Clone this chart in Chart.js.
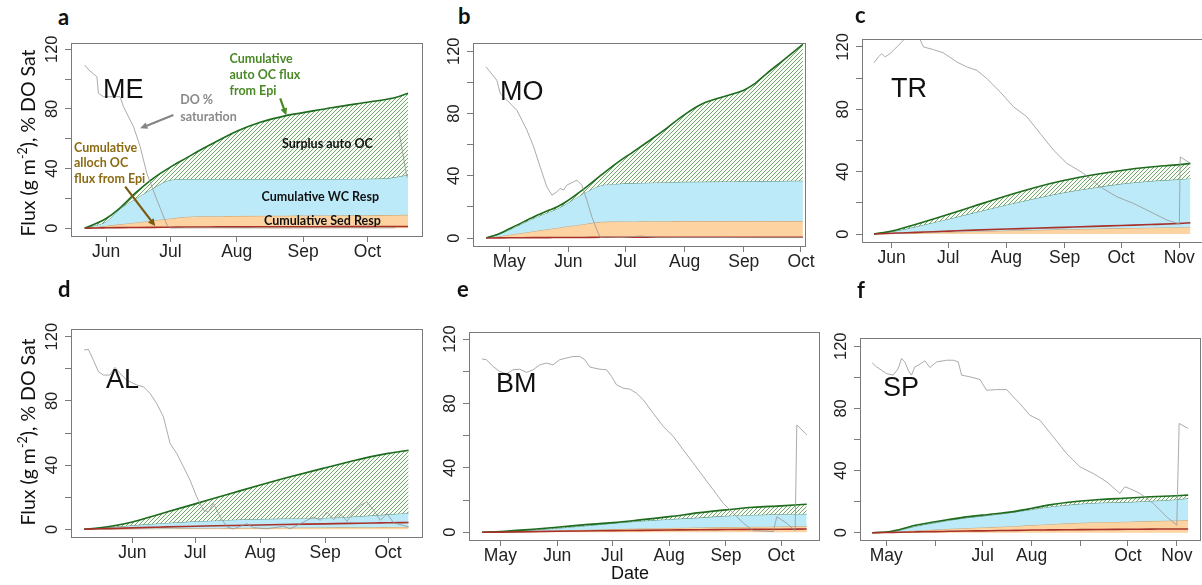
<!DOCTYPE html>
<html>
<head>
<meta charset="utf-8">
<script src="https://cdn.jsdelivr.net/npm/chart.js@4.4.1/dist/chart.umd.min.js"></script>
<style>
  body { margin: 0; background: #fff; width: 1202px; height: 585px; position: relative; overflow: hidden; }
  canvas { position: absolute; }
  .letter { position: absolute; font-family: Lato, 'Open Sans', sans-serif; font-weight: 700; font-size: 22px; line-height: 22px; color: #111; }
  .ytitle { position: absolute; font-family: Lato, 'Open Sans', sans-serif; font-size: 19.5px; color: #111; white-space: nowrap;
            transform: translate(-50%, -50%) rotate(-90deg); }
  .ytitle sup { font-size: 12.5px; }
  .xtitle { position: absolute; font-family: 'Liberation Sans', Arial, sans-serif; font-size: 18px; color: #111; transform: translateX(-50%); }
</style>
</head>
<body>

<script>
// x values are day of year
const yTicks = [0, 20, 40, 60, 80, 100, 120];
const yLabels = [0, 40, 80, 120];

// a - ME
const meTicks = [152, 182, 213, 244, 274];
const meLabels = ['Jun', 'Jul', 'Aug', 'Sep', 'Oct'];
const meDays = [142, 147, 152, 158, 166, 174, 182, 190, 196, 204, 213, 224, 236, 244, 258, 274, 283, 288, 293];
const meAuto = [0, 3, 6.5, 13, 24, 33.5, 41, 47.5, 52.5, 58.5, 65, 71, 75.5, 77.5, 81, 84.5, 86.5, 88, 90.5];
const meResp = [0, 2, 4.4, 12.5, 20, 26.8, 32.4, 33, 33, 33, 33, 33, 33, 33, 33, 33.2, 33.5, 34.5, 35.8];
const meSed = [0, 0.8, 1.6, 2.6, 3.9, 5.2, 6.5, 7.7, 8, 8.1, 8.2, 8.3, 8.4, 8.5, 8.6, 8.7, 8.8, 8.9, 9];
const meAlloch = [0, 0.2, 0.3, 0.4, 0.5, 0.6, 0.7, 0.8, 0.8, 0.9, 0.9, 1, 1, 1, 1.1, 1.1, 1.2, 1.2, 1.2];
const meDoDays = [142, 144, 147.7, 148.4, 150.7, 158.5, 160.1, 164.8, 167.9, 171, 175.7, 180.4, 182, 200, 230, 260, 287, 288, 288.6, 292.5];
const meDo = [109.4, 106, 101.6, 90.5, 88.2, 88.2, 81.5, 68.1, 54.7, 36.9, 19, 2.2, 0.2, 0.3, 0.2, 0.3, 0.3, null, 66, 34];

// b - MO
const moTicks = [121, 152, 182, 213, 244, 274];
const moLabels = ['May', 'Jun', 'Jul', 'Aug', 'Sep', 'Oct'];
const moDays = [109, 116, 125, 134, 142, 146, 151, 160, 169, 177, 186, 195, 204, 212, 221, 230, 239, 244, 249, 256, 265, 270, 275];
const moAuto = [0, 3, 8.3, 13.7, 18, 20, 23.5, 31.5, 40.2, 47.8, 55.4, 63, 71, 78.5, 85.5, 89.6, 92.8, 95, 98.5, 105.7, 114.5, 119.5, 124.5];
const moResp = [0, 2.7, 7.6, 12.8, 16.8, 18.7, 22, 28.7, 33.8, 34.8, 35.3, 35.6, 35.9, 36.1, 36.2, 36.3, 36.4, 36.5, 36.5, 36.6, 36.7, 36.8, 36.8];
const moSed = [0, 1.2, 2.8, 4.4, 5.8, 6.5, 7.4, 8.9, 10.4, 10.6, 10.7, 10.8, 10.8, 10.9, 10.9, 10.9, 10.9, 10.9, 10.9, 10.9, 10.9, 10.9, 10.9];
const moAlloch = [0, 0.1, 0.2, 0.3, 0.3, 0.4, 0.4, 0.4, 0.5, 0.5, 0.5, 0.5, 0.5, 0.5, 0.5, 0.5, 0.5, 0.5, 0.5, 0.5, 0.5, 0.5, 0.5];
const moDoDays = [108.8, 111, 114.5, 116.3, 119.8, 125, 130.3, 133.8, 137.2, 140.7, 143.4, 146, 147.7, 149.5, 151.2, 154.7, 156.5, 159.1, 161.7, 164.3, 167, 168.7, 172.2, 180, 189.7, 200, 220, 250, 274.7];
const moDo = [110, 106.7, 101.4, 92.8, 88.6, 82.1, 69.3, 58.6, 45.8, 32.9, 27.6, 29.7, 31.9, 30.8, 34, 36.1, 37.2, 34, 24.4, 13.7, 5.1, 0.4, 0.6, 0.3, 1.3, 0.3, 0.4, 0.3, 0.3];

// c - TR
const trTicks = [152, 182, 213, 244, 274, 305];
const trLabels = ['Jun', 'Jul', 'Aug', 'Sep', 'Oct', 'Nov'];
const trDays = [142.6, 152, 156.4, 165, 174.2, 182.7, 195.5, 213.2, 227.4, 243.4, 259.4, 274.1, 289.6, 305, 310.9];
const trAuto = [0, 2, 3.3, 6.3, 9.6, 12.8, 17.8, 24.6, 29.6, 34.3, 38, 40.8, 43, 44.5, 45.3];
const trResp = [0, 1.6, 2.5, 4.8, 7.4, 9.8, 13.6, 18.8, 22.6, 26.6, 29.7, 32.2, 34, 35.1, 35.7];
const trSed = [0, 0.3, 0.4, 0.7, 1, 1.3, 1.7, 2.2, 2.6, 3, 3.4, 3.8, 4.1, 4.4, 4.6];
const trAlloch = [0, 0.5, 0.7, 1.1, 1.5, 1.9, 2.5, 3.2, 3.7, 4.3, 4.9, 5.5, 6.1, 6.8, 7.2];
const trDoDays = [142.6, 144.9, 146.7, 148.5, 151.1, 156.4, 159.1, 163.5, 167.1, 168.9, 174.2, 179.5, 186.6, 191.9, 197.3, 202.6, 209.7, 216.8, 223.9, 231, 238.1, 245.2, 254.1, 262.9, 271.8, 280.7, 289.6, 298.4, 305, 305.5, 310.9];
const trDo = [109.8, 113.6, 115.7, 113.6, 115.7, 122, 125.5, 129, 124.7, 120, 118.3, 116.2, 110.4, 107.2, 105, 99.7, 91.2, 81.6, 75.2, 64.5, 53.8, 45.3, 38.9, 30.3, 23.9, 19.6, 14.3, 9, 6.4, 49.5, 45.3];

// d - AL
const alTicks = [152, 182, 213, 244, 274];
const alLabels = ['Jun', 'Jul', 'Aug', 'Sep', 'Oct'];
const alDays = [128.9, 136.6, 144.5, 152, 160.4, 168.4, 182.4, 192.3, 200.2, 213, 224.1, 243.7, 256, 267.1, 274, 283.8];
const alAuto = [0, 1, 2.5, 4.6, 7.7, 10.8, 16, 19.8, 22.8, 27.6, 31.6, 38.2, 42.2, 45.6, 47.3, 49.3];
const alResp = [0, 0.8, 1.7, 2.5, 3.3, 4, 5, 5.5, 6, 6.4, 6.7, 7.1, 7.8, 8.7, 9.3, 10.2];
const alSed = [0, 0.1, 0.2, 0.3, 0.4, 0.5, 0.6, 0.7, 0.8, 0.9, 1, 1.1, 1.2, 1.3, 1.4, 1.5];
const alAlloch = [0, 0.3, 0.6, 0.9, 1.2, 1.5, 1.9, 2.2, 2.4, 2.7, 3, 3.4, 3.7, 3.9, 4.1, 4.2];
const alDoDays = [128.9, 131, 133.4, 135.8, 138.1, 141.3, 143.7, 146.1, 149.3, 154.1, 157.3, 160.4, 163.6, 166.8, 168.4, 170, 173.2, 176.4, 179.5, 182.7, 185.9, 188.3, 190.7, 193.9, 197.1, 200.2, 206.6, 209.8, 216.2, 224.1, 227.3, 235.3, 238.5, 241.7, 244.8, 248, 251.2, 254.4, 257.6, 260.8, 263.9, 267.1, 270.3, 273.5, 276.7, 283.8];
const alDo = [111.7, 112.1, 105.4, 98.2, 96.1, 96.1, 100.9, 97.1, 93, 89.9, 88.8, 84.7, 78.4, 70.1, 61.8, 53.5, 47.2, 38.9, 30.6, 20.2, 11.9, 10.8, 16, 7.7, 1.5, 0.2, 3.5, 1, 0.3, 1.9, 0.3, 5.6, 7.7, 5.6, 10.8, 6, 9.8, 5, 11, 15, 17.1, 11.9, 5.6, 9.8, 4, 1.5];

// e - BM
const bmTicks = [121, 152, 182, 213, 244, 274];
const bmLabels = ['May', 'Jun', 'Jul', 'Aug', 'Sep', 'Oct'];
const bmDays = [111, 121, 138.8, 151.9, 166.1, 182.5, 197.1, 213.1, 229.8, 243.8, 258.9, 274, 288];
const bmAuto = [0, 0.4, 1.9, 3.1, 4.6, 6, 7.7, 9.7, 12.2, 13.9, 15.5, 16.4, 17.4];
const bmResp = [0, 0.2, 1.5, 2.5, 3.9, 5.6, 7, 8.1, 9.1, 10.2, 10.8, 11.2, 11.4];
const bmSed = [0, 0.3, 0.8, 1.1, 1.5, 2, 2.4, 2.7, 3, 3.2, 3.4, 3.6, 3.7];
const bmAlloch = [0, 0.1, 0.4, 0.6, 0.8, 1, 1.2, 1.4, 1.6, 1.7, 1.8, 1.9, 2];
const bmDoDays = [111, 113.4, 117, 120.6, 124.3, 127.9, 131.6, 135.2, 138.8, 142.5, 146.1, 149.7, 153.4, 157, 160.7, 164.3, 167, 169.8, 175.2, 178.9, 181.6, 184.3, 188, 191.6, 195.2, 198.9, 204.3, 209.8, 215.3, 220.7, 226.2, 231.6, 237.1, 242.5, 248, 253.5, 258.9, 266.2, 269.8, 271.7, 277.1, 281.7, 282.6, 288];
const bmDo = [107.6, 107.2, 103, 99.9, 98.4, 100.9, 101.3, 99.3, 100.9, 104, 105.1, 104, 107.2, 108.2, 109.2, 109.2, 107.2, 102.6, 101.3, 100.9, 96.8, 91.6, 89.5, 88.9, 86.4, 82.3, 74, 65.7, 59.5, 51.2, 42.9, 34.6, 26.3, 18, 11.8, 5.6, 1, 0.6, 0.4, 9.7, 5.6, 1, 66.7, 60.5];

// f - SP
const spTicks = [121, 152, 182, 213, 244, 274, 305];
const spLabels = ['May', '', 'Jul', 'Aug', '', 'Oct', 'Nov'];
const spDays = [112.1, 121, 129.6, 140.2, 151.8, 161.3, 171.8, 181.8, 192.9, 203.5, 213.4, 224.6, 235.1, 244.2, 256.2, 274.2, 287.9, 305, 312.1];
const spAuto = [0, 0.4, 2.1, 4.9, 7.1, 8.6, 10.2, 11.3, 12.5, 13.9, 15.7, 17.9, 19.4, 20.4, 21.4, 22.3, 23.1, 23.8, 24.2];
const spResp = [0, 0.2, 1.7, 4.3, 6.4, 8.1, 9.6, 10.7, 12, 13.5, 15, 16.7, 17.8, 18.6, 19.3, 19.7, 20.4, 21.4, 22.1];
const spSed = [0, 0.3, 0.8, 1.4, 2, 2.5, 3, 3.4, 3.8, 4.3, 4.9, 5.5, 6, 6.4, 6.8, 7.1, 7.5, 7.9, 8.1];
const spAlloch = [0, 0.1, 0.3, 0.5, 0.7, 0.9, 1.1, 1.2, 1.4, 1.5, 1.7, 1.8, 1.9, 2, 2.1, 2.2, 2.3, 2.4, 2.4];
const spDoDays = [112.1, 114.9, 118, 121.2, 125.4, 128.6, 130.7, 132.8, 134.9, 137, 139.1, 141.3, 145.5, 148.6, 152.9, 159.2, 163.4, 166.6, 168.7, 174, 180.3, 184.5, 190.8, 197.2, 201.4, 205.6, 211.9, 218.3, 226.7, 235.1, 243.6, 252, 260.5, 268.9, 272.1, 277.3, 281.5, 290, 298.4, 304.9, 306.4, 312.1];
const spDo = [109.3, 106.7, 104.6, 102.4, 101.4, 105.6, 112.1, 109.9, 104.6, 101.4, 106.7, 107.8, 110.6, 106.3, 109.9, 111, 111, 109.9, 101.4, 100.3, 98.6, 91.7, 92.1, 92.1, 87.4, 83.1, 75.6, 72.4, 61.7, 51, 42.4, 38.1, 32.8, 25.3, 29.6, 27.4, 25.3, 18.9, 10.3, 4.9, 70.3, 67.1];

// panel a annotations (data coordinates)
const meNotes = [
  { lines: ['Cumulative', 'auto OC flux', 'from Epi'], ys: [113.3, 102.7, 91.8], x: 209.6, align: 'left', color: '#4a8a26' },
  { lines: ['DO %', 'saturation'], ys: [86, 74.8], x: 186.6, align: 'left', color: '#8a8a8a' },
  { lines: ['Cumulative', 'alloch OC', 'flux from Epi'], ys: [54, 43.6, 32.8], x: 137, align: 'left', color: '#8c6a12' },
  { lines: ['Surplus auto OC'], ys: [56.4], x: 255.3, align: 'center', color: '#111' },
  { lines: ['Cumulative WC Resp'], ys: [20.8], x: 252, align: 'center', color: '#111' },
  { lines: ['Cumulative Sed Resp'], ys: [4.7], x: 253, align: 'center', color: '#111' }
];
const meArrows = [
  { from: [233.3, 87.1], to: [236.1, 75.7], color: '#4a8a26' },
  { from: [183.4, 75.9], to: [167.9, 67], color: '#858585' },
  { from: [160.9, 27.9], to: [174.9, 1.5], color: '#7a5a10' }
];

const panels = [
  { frame: [71, 43, 422, 236], xr: [135.6, 299.5], yr: [-5.2, 124.2], days: meDays, sed: meSed, resp: meResp, auto: meAuto, alloch: meAlloch,
    doDays: meDoDays, doVals: meDo, ticks: meTicks, labels: meLabels, site: 'ME', siteAt: [32, 55], notes: meNotes, arrows: meArrows },
  { frame: [473, 43, 805, 246], xr: [102, 276.1], yr: [-5.1, 125.3], days: moDays, sed: moSed, resp: moResp, auto: moAuto, alloch: moAlloch,
    doDays: moDoDays, doVals: moDo, ticks: moTicks, labels: moLabels, site: 'MO', siteAt: [27, 57] },
  { frame: [862, 39, 1203, 242], xr: [136.2, 317.6], yr: [-5.1, 125.1], days: trDays, sed: trSed, resp: trResp, auto: trAuto, alloch: trAlloch,
    doDays: trDoDays, doVals: trDo, ticks: trTicks, labels: trLabels, site: 'TR', siteAt: [29, 58] },
  { frame: [71, 329, 422, 537], xr: [122.7, 290.2], yr: [-4.8, 124.8], days: alDays, sed: alSed, resp: alResp, auto: alAuto, alloch: alAlloch,
    doDays: alDoDays, doVals: alDo, ticks: alTicks, labels: alLabels, site: 'AL', siteAt: [35, 59] },
  { frame: [469, 332, 819, 540], xr: [103.9, 294.7], yr: [-4.8, 124.4], days: bmDays, sed: bmSed, resp: bmResp, auto: bmAuto, alloch: bmAlloch,
    doDays: bmDoDays, doVals: bmDo, ticks: bmTicks, labels: bmLabels, site: 'BM', siteAt: [27, 60] },
  { frame: [860, 338, 1200, 540], xr: [104.4, 319.6], yr: [-4.7, 125.3], days: spDays, sed: spSed, resp: spResp, auto: spAuto, alloch: spAlloch,
    doDays: spDoDays, doVals: spDo, ticks: spTicks, labels: spLabels, site: 'SP', siteAt: [23, 58] }
];

const PAD = { left: 30, top: 12, right: 20, bottom: 30 };
const AXIS = 10;

function makeHatch() {
  const c = document.createElement('canvas');
  c.width = 4; c.height = 4;
  const g = c.getContext('2d');
  g.fillStyle = '#f8fcf5';
  g.fillRect(0, 0, 4, 4);
  g.strokeStyle = '#4a874a';
  g.lineWidth = 0.75;
  g.beginPath();
  g.moveTo(0, 4); g.lineTo(4, 0);
  g.moveTo(-1, 1); g.lineTo(1, -1);
  g.moveTo(3, 5); g.lineTo(5, 3);
  g.stroke();
  return g.createPattern(c, 'repeat');
}

const pts = (xs, ys) => xs.map((x, i) => ({ x: x, y: ys[i] }));

function drawArrow(ctx, x1, y1, x2, y2, color) {
  const ang = Math.atan2(y2 - y1, x2 - x1);
  const head = 8;
  ctx.strokeStyle = color;
  ctx.fillStyle = color;
  ctx.lineWidth = 2.2;
  ctx.beginPath();
  ctx.moveTo(x1, y1);
  ctx.lineTo(x2 - Math.cos(ang) * head * 0.8, y2 - Math.sin(ang) * head * 0.8);
  ctx.stroke();
  ctx.beginPath();
  ctx.moveTo(x2, y2);
  ctx.lineTo(x2 - head * Math.cos(ang - 0.45), y2 - head * Math.sin(ang - 0.45));
  ctx.lineTo(x2 - head * Math.cos(ang + 0.45), y2 - head * Math.sin(ang + 0.45));
  ctx.closePath();
  ctx.fill();
}

function deco(p) {
  return {
    id: 'deco',
    afterDraw(chart) {
      const ctx = chart.ctx;
      const a = chart.chartArea;
      const xs = chart.scales.x, ys = chart.scales.y;
      ctx.save();
      // box
      ctx.strokeStyle = '#7a7a7a';
      ctx.lineWidth = 1;
      ctx.strokeRect(Math.round(a.left) + 0.5, Math.round(a.top) + 0.5, Math.round(a.right - a.left), Math.round(a.bottom - a.top));
      // x labels
      ctx.fillStyle = '#222';
      ctx.font = '17.5px "Liberation Sans", Arial, sans-serif';
      ctx.textAlign = 'center';
      ctx.textBaseline = 'alphabetic';
      p.ticks.forEach((v, i) => ctx.fillText(p.labels[i], xs.getPixelForValue(v), a.bottom + 21));
      // y labels, rotated
      ctx.font = '16.5px "Liberation Sans", Arial, sans-serif';
      yLabels.forEach(v => {
        ctx.save();
        ctx.translate(a.left - 14, ys.getPixelForValue(v));
        ctx.rotate(-Math.PI / 2);
        ctx.fillText(String(v), 0, 0);
        ctx.restore();
      });
      // site name
      ctx.fillStyle = '#111';
      ctx.font = '27px "Liberation Sans", Arial, sans-serif';
      ctx.textAlign = 'left';
      ctx.fillText(p.site, a.left + p.siteAt[0], a.top + p.siteAt[1]);
      // annotations
      if (p.notes) {
        ctx.font = 'bold 12.5px Lato, "Open Sans", sans-serif';
        ctx.textBaseline = 'middle';
        p.notes.forEach(n => {
          ctx.fillStyle = n.color;
          ctx.textAlign = n.align;
          n.lines.forEach((t, i) => ctx.fillText(t, xs.getPixelForValue(n.x), ys.getPixelForValue(n.ys[i])));
        });
        p.arrows.forEach(r => drawArrow(ctx,
          xs.getPixelForValue(r.from[0]), ys.getPixelForValue(r.from[1]),
          xs.getPixelForValue(r.to[0]), ys.getPixelForValue(r.to[1]), r.color));
      }
      ctx.restore();
    }
  };
}

const hatch = makeHatch();

panels.forEach(p => {
  const [L, T, R, B] = p.frame;
  const cv = document.createElement('canvas');
  cv.width = (R - L) + PAD.left + AXIS + PAD.right;
  cv.height = (B - T) + PAD.top + AXIS + PAD.bottom;
  cv.style.left = (L - PAD.left - AXIS) + 'px';
  cv.style.top = (T - PAD.top) + 'px';
  document.body.appendChild(cv);

  const gridOpts = { drawOnChartArea: false, drawTicks: true, tickLength: 6, color: '#7a7a7a', lineWidth: 1 };

  new Chart(cv.getContext('2d'), {
    type: 'line',
    data: {
      datasets: [
        { data: pts(p.days, p.sed), borderColor: '#b39468', borderWidth: 0.8, backgroundColor: '#fcd3a1', fill: 'origin', order: 4, cubicInterpolationMode: 'monotone' },
        { data: pts(p.days, p.resp), borderColor: '#3f7a5a', borderWidth: 0.8, backgroundColor: '#bdeaf9', fill: '-1', order: 3, cubicInterpolationMode: 'monotone' },
        { data: pts(p.days, p.auto), borderColor: '#1d6b1d', borderWidth: 1.6, backgroundColor: hatch, fill: '-1', order: 2, cubicInterpolationMode: 'monotone' },
        { data: pts(p.days, p.alloch), borderColor: '#a8322a', borderWidth: 1.6, fill: false, order: 1, cubicInterpolationMode: 'monotone' },
        { data: pts(p.doDays, p.doVals), borderColor: '#959595', borderWidth: 0.8, fill: false, order: 0, spanGaps: false, tension: 0 }
      ]
    },
    options: {
      responsive: false,
      animation: false,
      events: [],
      layout: { padding: PAD },
      elements: { point: { radius: 0 } },
      plugins: { legend: { display: false }, tooltip: { enabled: false } },
      scales: {
        x: {
          type: 'linear', min: p.xr[0], max: p.xr[1],
          afterBuildTicks: s => { s.ticks = p.ticks.map(v => ({ value: v })); },
          afterFit: s => { s.height = AXIS; },
          ticks: { display: false },
          grid: gridOpts,
          border: { display: false }
        },
        y: {
          type: 'linear', min: p.yr[0], max: p.yr[1],
          afterBuildTicks: s => { s.ticks = yTicks.map(v => ({ value: v })); },
          afterFit: s => { s.width = AXIS; },
          ticks: { display: false },
          grid: gridOpts,
          border: { display: false }
        }
      }
    },
    plugins: [deco(p)]
  });
});
</script>

<div class="letter" style="left:58px;top:6px">a</div>
<div class="letter" style="left:458px;top:5px">b</div>
<div class="letter" style="left:855px;top:4px">c</div>
<div class="letter" style="left:58px;top:278px">d</div>
<div class="letter" style="left:457px;top:278px">e</div>
<div class="letter" style="left:857px;top:279px">f</div>

<div class="ytitle" style="left:27px;top:143px">Flux (g m<sup>-2</sup>), % DO Sat</div>
<div class="ytitle" style="left:27px;top:432px">Flux (g m<sup>-2</sup>), % DO Sat</div>
<div class="xtitle" style="left:630px;top:563px">Date</div>
</body>
</html>
